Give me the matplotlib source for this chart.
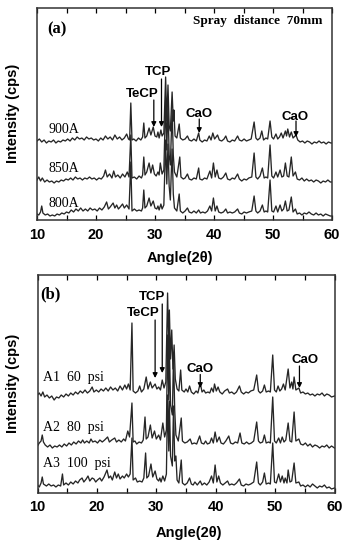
import matplotlib
matplotlib.use("Agg")
import matplotlib.pyplot as plt

# ---------------- data (2theta, relative intensity) ----------------
trace_900A = [(10.0,0),(10.4,2),(10.8,-1),(11.2,1),(11.6,-2),(12.0,0),(12.4,-1),(12.8,1),(13.2,-2),(13.6,0),(14.0,-1),(14.4,1),(14.8,0),(15.2,2),(15.6,0),(16.0,3),(16.4,1),(16.8,4),(17.2,2),(17.6,3),(18.0,1),(18.4,4),(18.8,2),(19.2,3),(19.6,1),(20.0,2),(20.4,0),(20.8,3),(21.2,1),(21.6,5),(22.0,2),(22.4,4),(22.8,1),(23.2,6),(23.6,2),(24.0,4),(24.4,1),(24.8,3),(25.2,7),(25.5,2),(25.7,1),(25.9,38),(26.1,1),(26.4,2),(26.8,0),(27.2,3),(27.6,1),(27.9,4),(28.1,18),(28.3,3),(28.6,5),(29.0,13),(29.3,6),(29.7,14),(30.0,5),(30.3,4),(30.5,9),(30.7,3),(31.0,11),(31.2,5),(31.5,8),(31.8,64),(32.0,20),(32.2,56),(32.4,15),(32.6,10),(32.9,49),(33.1,20),(33.2,31),(33.4,5),(33.7,3),(34.1,17),(34.3,3),(34.7,1),(35.1,2),(35.5,5),(35.8,1),(36.2,0),(36.6,2),(37.0,0),(37.4,8),(37.6,1),(38.0,-1),(38.4,1),(38.8,0),(39.2,5),(39.5,1),(39.8,8),(40.1,2),(40.6,6),(40.9,1),(41.3,0),(41.7,2),(42.0,5),(42.3,0),(42.7,-1),(43.1,1),(43.5,0),(44.0,5),(44.3,1),(44.7,0),(45.1,2),(45.5,0),(45.9,1),(46.3,2),(46.8,19),(47.1,3),(47.4,1),(47.8,3),(48.1,10),(48.4,1),(48.8,3),(49.1,2),(49.5,20),(49.8,4),(50.1,2),(50.5,7),(50.8,2),(51.1,4),(51.4,8),(51.7,3),(52.1,10),(52.3,5),(52.5,12),(52.8,4),(53.1,9),(53.4,3),(53.9,6),(54.2,1),(54.6,-1),(55.0,0),(55.4,-2),(55.8,0),(56.2,-1),(56.6,-3),(57.0,-1),(57.4,-2),(57.8,0),(58.2,-2),(58.6,-1),(59.0,-3),(59.4,-1),(59.8,-2),(60.0,-2)]

trace_850A = [(10.0,0),(10.3,3),(10.6,-1),(10.9,2),(11.3,-2),(11.7,0),(12.1,-2),(12.5,-1),(12.9,-3),(13.3,-1),(13.7,-2),(14.1,0),(14.5,-1),(14.9,1),(15.3,0),(15.7,2),(16.1,0),(16.5,3),(16.9,1),(17.3,2),(17.7,0),(18.1,2),(18.5,1),(18.9,3),(19.3,1),(19.7,2),(20.1,0),(20.5,2),(20.9,1),(21.3,4),(21.6,10),(21.9,3),(22.3,6),(22.7,2),(23.0,9),(23.3,3),(23.7,5),(24.1,2),(24.5,6),(24.9,3),(25.3,8),(25.6,3),(25.9,45),(26.1,2),(26.5,3),(26.9,1),(27.3,4),(27.7,2),(27.9,5),(28.1,23),(28.3,5),(28.6,8),(29.0,17),(29.3,7),(29.6,15),(29.9,6),(30.2,4),(30.5,8),(30.7,5),(30.9,17),(31.2,6),(31.5,10),(31.8,80),(32.0,30),(32.2,75),(32.4,25),(32.6,15),(32.9,70),(33.1,25),(33.3,8),(33.7,3),(34.2,23),(34.4,3),(34.8,1),(35.1,2),(35.5,6),(35.8,1),(36.2,0),(36.6,2),(37.0,1),(37.4,12),(37.6,1),(38.0,0),(38.4,2),(38.8,1),(39.3,9),(39.6,2),(39.9,17),(40.2,3),(40.5,10),(40.8,2),(41.2,1),(41.6,3),(42.0,7),(42.3,1),(42.7,0),(43.1,2),(43.5,1),(44.0,6),(44.3,1),(44.7,-1),(45.1,1),(45.5,0),(45.9,2),(46.4,3),(46.8,27),(47.1,3),(47.4,1),(47.8,4),(48.2,12),(48.5,2),(48.8,3),(49.1,2),(49.5,35),(49.8,4),(50.1,2),(50.5,8),(50.8,3),(51.2,10),(51.5,3),(51.8,4),(52.1,17),(52.4,4),(52.7,3),(53.1,23),(53.4,4),(53.8,8),(54.1,1),(54.5,0),(54.9,2),(55.3,-1),(55.7,1),(56.1,-1),(56.5,0),(56.9,-2),(57.3,0),(57.7,-1),(58.1,-3),(58.5,-1),(58.9,-2),(59.3,0),(59.7,-2),(60.0,-2)]

trace_800A = [(10.0,0),(10.3,-1),(10.6,2),(10.8,8),(11.0,1),(11.4,-1),(11.8,0),(12.2,-2),(12.6,-1),(13.0,-2),(13.4,0),(13.8,-1),(14.2,1),(14.6,0),(15.0,2),(15.4,1),(15.8,4),(16.2,2),(16.6,5),(17.0,3),(17.4,6),(17.8,3),(18.2,5),(18.6,3),(19.0,6),(19.4,4),(19.8,5),(20.2,3),(20.6,6),(21.0,4),(21.4,7),(21.8,12),(22.1,5),(22.4,7),(22.9,11),(23.2,6),(23.5,9),(23.8,5),(24.1,7),(24.5,10),(24.8,6),(25.2,9),(25.6,5),(25.9,52),(26.1,3),(26.5,5),(26.9,3),(27.3,4),(27.7,3),(27.9,6),(28.1,24),(28.3,6),(28.6,8),(29.0,16),(29.3,8),(29.7,13),(30.0,6),(30.3,5),(30.5,8),(30.7,4),(31.0,10),(31.2,5),(31.5,9),(31.8,74),(32.0,30),(32.2,70),(32.4,28),(32.6,14),(32.9,65),(33.1,20),(33.3,6),(33.7,3),(34.1,20),(34.3,3),(34.7,1),(35.1,3),(35.5,6),(35.8,2),(36.2,1),(36.6,3),(37.0,1),(37.4,4),(37.7,1),(38.1,2),(38.5,1),(38.9,3),(39.3,8),(39.6,3),(39.9,16),(40.2,3),(40.5,8),(40.8,2),(41.2,1),(41.6,2),(42.0,5),(42.3,1),(42.7,2),(43.1,1),(43.5,2),(44.0,5),(44.3,1),(44.7,0),(45.1,2),(45.5,1),(45.9,2),(46.4,3),(46.8,18),(47.1,3),(47.4,1),(47.8,3),(48.2,9),(48.5,2),(48.8,3),(49.1,2),(49.5,34),(49.8,3),(50.1,2),(50.5,8),(50.8,2),(51.2,9),(51.5,3),(51.8,5),(52.1,13),(52.4,3),(52.7,4),(53.1,17),(53.4,2),(53.8,5),(54.1,0),(54.5,1),(54.9,-1),(55.3,1),(55.7,0),(56.1,2),(56.5,0),(56.9,-1),(57.3,1),(57.7,-1),(58.1,0),(58.5,-2),(58.9,0),(59.3,-1),(59.7,-2),(60.0,-2)]

trace_A1 = [(10.0,-1),(10.3,1),(10.6,-2),(10.9,2),(11.2,-3),(11.6,-1),(12.0,-4),(12.4,-2),(12.8,-6),(13.2,-3),(13.6,-4),(14.0,-1),(14.4,-3),(14.8,0),(15.2,-2),(15.6,1),(16.0,-1),(16.4,2),(16.8,0),(17.2,3),(17.6,1),(18.0,4),(18.4,1),(18.8,3),(19.2,7),(19.5,2),(19.9,4),(20.3,2),(20.7,5),(21.1,3),(21.5,6),(21.9,3),(22.3,7),(22.7,4),(23.1,6),(23.5,3),(23.9,8),(24.3,4),(24.7,9),(25.0,5),(25.3,10),(25.6,4),(25.9,71),(26.1,3),(26.5,1),(26.9,3),(27.2,8),(27.5,2),(27.9,5),(28.3,17),(28.6,5),(29.0,12),(29.3,6),(29.8,10),(30.1,5),(30.4,7),(30.7,4),(31.0,14),(31.3,6),(31.6,12),(31.9,101),(32.1,40),(32.2,84),(32.4,35),(32.6,64),(32.8,25),(33.0,49),(33.2,15),(33.5,5),(33.8,3),(34.1,24),(34.3,4),(34.7,2),(35.0,5),(35.3,2),(35.6,8),(35.9,2),(36.3,0),(36.7,3),(37.0,1),(37.4,11),(37.7,2),(38.0,4),(38.3,1),(38.7,2),(39.0,1),(39.3,6),(39.6,2),(39.8,10),(40.1,3),(40.4,7),(40.7,2),(41.1,0),(41.5,3),(42.0,5),(42.3,1),(42.7,2),(43.1,0),(43.5,2),(44.0,8),(44.3,2),(44.7,0),(45.1,2),(45.5,1),(45.9,3),(46.4,4),(46.9,19),(47.2,3),(47.5,1),(47.9,3),(48.2,9),(48.5,2),(48.9,3),(49.2,2),(49.6,39),(49.9,4),(50.2,2),(50.5,8),(50.8,3),(51.1,5),(51.4,10),(51.7,4),(52.2,25),(52.5,6),(52.8,12),(53.0,5),(53.2,17),(53.5,4),(54.0,6),(54.3,1),(54.7,2),(55.1,0),(55.5,1),(55.9,-1),(56.3,0),(56.7,-2),(57.1,0),(57.5,-1),(57.9,1),(58.3,-2),(58.7,0),(59.1,-1),(59.5,-3),(60.0,-2)]

trace_A2 = [(10.0,-1),(10.3,2),(10.6,4),(10.8,10),(11.0,3),(11.3,0),(11.7,-2),(12.1,0),(12.5,-3),(12.9,-1),(13.3,-2),(13.7,0),(14.1,-2),(14.5,1),(14.9,-1),(15.3,2),(15.7,0),(16.1,3),(16.5,1),(16.9,4),(17.3,2),(17.6,5),(17.9,2),(18.3,4),(18.7,2),(19.0,6),(19.3,3),(19.7,4),(20.1,2),(20.5,5),(20.9,3),(21.3,5),(21.8,8),(22.1,3),(22.5,5),(23.0,7),(23.3,3),(23.7,5),(24.1,3),(24.5,6),(24.8,4),(25.2,14),(25.5,8),(25.9,42),(26.1,3),(26.4,4),(26.7,1),(27.1,3),(27.5,2),(27.8,5),(28.1,28),(28.3,6),(28.6,8),(29.0,20),(29.3,7),(29.7,14),(30.0,6),(30.4,10),(30.7,5),(31.1,22),(31.4,8),(31.7,15),(31.9,110),(32.1,45),(32.2,100),(32.4,40),(32.7,30),(32.9,90),(33.1,35),(33.3,10),(33.7,4),(34.2,27),(34.4,4),(34.8,2),(35.2,3),(35.7,6),(36.0,1),(36.4,2),(36.8,1),(37.3,9),(37.6,2),(38.0,1),(38.3,4),(38.6,1),(39.0,2),(39.3,7),(39.6,2),(39.9,13),(40.2,3),(40.6,8),(40.9,2),(41.3,1),(41.7,4),(42.2,9),(42.5,2),(42.9,1),(43.3,3),(43.7,2),(44.1,12),(44.4,2),(44.8,1),(45.2,3),(45.6,1),(46.0,2),(46.4,4),(46.9,23),(47.2,4),(47.5,2),(47.9,3),(48.2,10),(48.5,2),(48.9,3),(49.2,2),(49.6,48),(49.9,4),(50.2,2),(50.6,7),(50.9,2),(51.2,8),(51.5,3),(51.8,5),(52.2,22),(52.5,4),(52.8,3),(53.2,33),(53.5,4),(54.0,6),(54.3,1),(54.7,0),(55.1,2),(55.5,-1),(55.9,1),(56.3,-2),(56.7,0),(57.1,-1),(57.5,-3),(57.9,-1),(58.3,-2),(58.7,0),(59.1,-3),(59.5,-1),(60.0,-3)]

trace_A3 = [(10.0,1),(10.3,-1),(10.6,3),(10.8,9),(11.0,2),(11.5,0),(11.9,2),(12.3,0),(12.7,1),(13.1,-1),(13.5,1),(13.9,0),(14.2,12),(14.4,1),(14.8,3),(15.2,1),(15.6,4),(16.0,2),(16.4,5),(16.8,3),(17.1,6),(17.5,8),(17.8,4),(18.2,7),(18.5,10),(18.8,5),(19.2,8),(19.5,7),(19.8,4),(20.1,6),(20.5,8),(20.8,5),(21.2,9),(21.7,16),(22.0,8),(22.3,10),(22.6,6),(23.0,14),(23.3,8),(23.6,12),(23.9,7),(24.3,10),(24.6,8),(25.0,12),(25.3,9),(25.6,12),(25.9,48),(26.1,6),(26.5,8),(26.8,4),(27.2,5),(27.6,4),(27.9,8),(28.2,33),(28.4,8),(28.7,10),(29.1,22),(29.4,9),(29.8,15),(30.1,7),(30.4,5),(30.6,8),(30.8,4),(31.1,10),(31.4,5),(31.7,12),(31.9,91),(32.1,35),(32.2,85),(32.4,30),(32.7,20),(32.9,80),(33.1,25),(33.3,30),(33.5,6),(33.8,3),(34.2,26),(34.4,3),(34.8,1),(35.2,3),(35.6,8),(35.9,2),(36.2,1),(36.5,4),(36.9,1),(37.4,5),(37.7,1),(38.1,3),(38.5,1),(38.9,4),(39.3,10),(39.6,3),(39.9,21),(40.2,4),(40.5,10),(40.8,3),(41.2,1),(41.6,3),(42.0,5),(42.3,1),(42.7,2),(43.1,1),(43.5,3),(44.0,7),(44.3,1),(44.7,0),(45.1,2),(45.5,1),(45.9,2),(46.4,4),(46.9,24),(47.2,3),(47.5,1),(47.9,4),(48.2,13),(48.5,2),(48.9,3),(49.2,2),(49.6,43),(49.9,4),(50.2,3),(50.6,12),(50.9,4),(51.2,10),(51.5,3),(51.7,8),(52.0,3),(52.2,16),(52.5,4),(52.8,5),(53.2,23),(53.5,3),(54.0,4),(54.3,0),(54.7,1),(55.1,-1),(55.5,1),(55.9,-1),(56.3,2),(56.7,0),(57.1,-2),(57.5,0),(57.9,-1),(58.3,1),(58.7,-2),(59.1,-1),(59.5,-3),(60.0,-2)]

labels_a = ["900A", "850A", "800A"]
labels_b = ["A1  60  psi", "A2  80  psi", "A3  100  psi"]
offsets_a = [79, 40, 6]
offsets_b = [98.5, 47.5, 6.5]
xticks = [10, 20, 30, 40, 50, 60]

# ---------------- figure ----------------
W, H = 342, 542
fig = plt.figure(figsize=(W / 100, H / 100), dpi=100)
sans = "Liberation Sans"
serif = "Liberation Serif"
lc = "#262626"

def px_axes(l, r, t, b):
    return fig.add_axes([l / W, 1 - b / H, (r - l) / W, (b - t) / H])

ax_a = px_axes(37, 332, 7.5, 220)
ax_b = px_axes(37.5, 334.5, 275, 492.5)

def style(ax, ymax):
    ax.set_xlim(10, 60)
    ax.set_ylim(0, ymax)
    ax.set_xticks(xticks)
    ax.set_xticks(range(15, 60, 10), minor=True)
    ax.set_yticks([])
    ax.tick_params(axis="x", which="both", direction="in", top=True, bottom=True,
                   length=3.5, width=0.9, pad=5.5, labelsize=10.5)
    for t in ax.get_xticklabels():
        t.set_fontfamily(sans)
        t.set_fontweight("bold")
    for s in ax.spines.values():
        s.set_linewidth(1.1)
        s.set_color("#333333")

style(ax_a, 212.5)
style(ax_b, 217.5)

for ax, traces, offs in [(ax_a, [trace_900A, trace_850A, trace_800A], offsets_a),
                         (ax_b, [trace_A1, trace_A2, trace_A3], offsets_b)]:
    for tr, off in zip(traces, offs):
        xs = [p[0] for p in tr]
        ys = [p[1] + off for p in tr]
        ax.plot(xs, ys, color=lc, lw=0.95)

# trace labels
for lab, y in zip(labels_a, [91, 52, 17]):
    ax_a.text(11.9, y, lab, family=serif, fontsize=10, ha="left", va="center")
for lab, y in zip(labels_b, [114.5, 65.5, 29.5]):
    ax_b.text(10.9, y, lab, family=serif, fontsize=10, ha="left", va="center")

ax_a.text(0.034, 0.899, "(a)", transform=ax_a.transAxes, family=serif,
          fontsize=12, fontweight="bold", ha="left", va="center")
ax_a.text(0.969, 0.936, "Spray  distance  70mm", transform=ax_a.transAxes,
          family=serif, fontsize=9.5, fontweight="bold", ha="right", va="center")
ax_b.text(0.01, 0.913, "(b)", transform=ax_b.transAxes, family=serif,
          fontsize=12, fontweight="bold", ha="left", va="center")

arrow_kw = dict(arrowstyle="-|>", color="black", lw=0.9, mutation_scale=7,
                shrinkA=0, shrinkB=0)

def arrow(ax, x, y0, y1):
    ax.annotate("", xy=(x, y1), xytext=(x, y0), arrowprops=arrow_kw)

def tag(ax, x, y, s):
    ax.text(x, y, s, family=sans, fontsize=9.5, fontweight="bold", ha="center", va="center")

# panel (a) annotations
tag(ax_a, 30.5, 148, "TCP")
tag(ax_a, 27.9, 126, "TeCP")
tag(ax_a, 37.4, 106, "CaO")
tag(ax_a, 53.8, 103, "CaO")
arrow(ax_a, 29.8, 120, 93)
arrow(ax_a, 31.1, 141, 93)
arrow(ax_a, 37.5, 101, 87)
arrow(ax_a, 53.9, 99, 83)

# panel (b) annotations
tag(ax_b, 29.3, 195.5, "TCP")
tag(ax_b, 27.8, 180, "TeCP")
tag(ax_b, 37.3, 123.5, "CaO")
tag(ax_b, 55.0, 132.5, "CaO")
arrow(ax_b, 29.8, 172.5, 114.5)
arrow(ax_b, 31.0, 188.5, 119.5)
arrow(ax_b, 37.4, 118, 104.5)
arrow(ax_b, 54.1, 126.5, 104.5)

# axis labels
for yc in [(7.5 + 220) / 2, (275 + 492.5) / 2]:
    fig.text(13 / W, 1 - yc / H, "Intensity (cps)", rotation=90, family=sans,
             fontsize=10.5, fontweight="bold", ha="center", va="center")
fig.text(180 / W, 1 - 257.5 / H, "Angle(2θ)", family=sans, fontsize=10.5,
         fontweight="bold", ha="center", va="center")
fig.text(188.5 / W, 1 - 533 / H, "Angle(2θ)", family=sans, fontsize=10.5,
         fontweight="bold", ha="center", va="center")

fig.savefig("out.png", dpi=100)
